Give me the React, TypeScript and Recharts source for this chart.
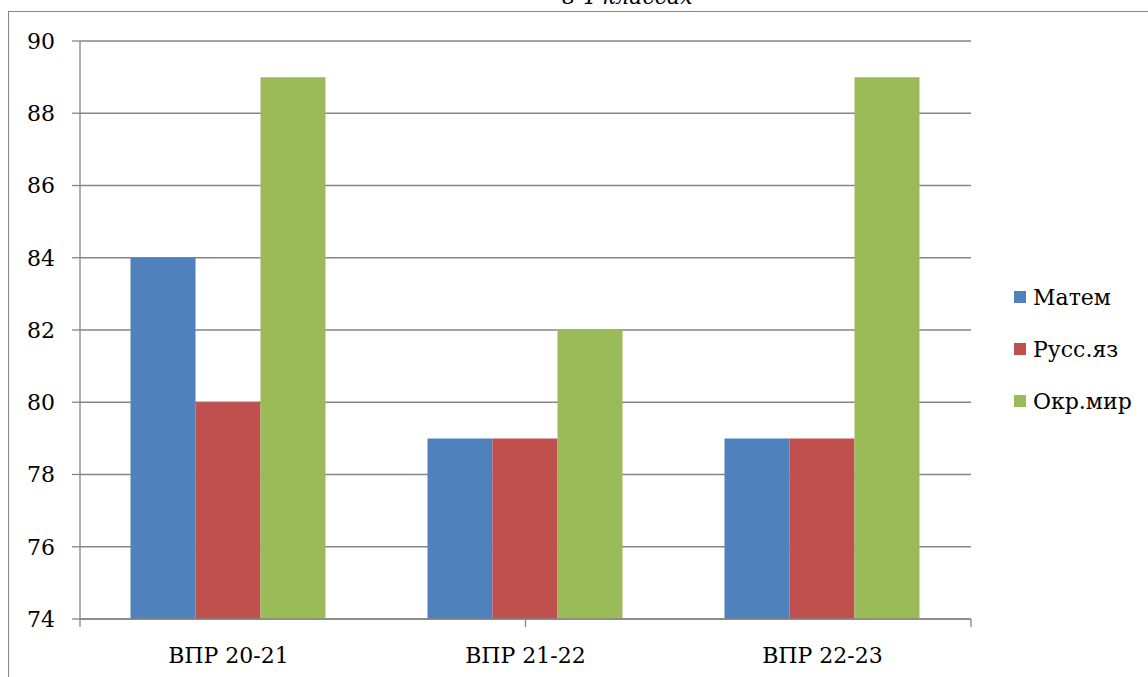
import React from 'react';
import { BarChart, Bar, XAxis, YAxis, CartesianGrid } from 'recharts';

const categories = ['ВПР 20-21', 'ВПР 21-22', 'ВПР 22-23'];
const matem = [84, 79, 79];
const russ = [80, 79, 79];
const okr = [89, 82, 89];
const yTicks = [74, 76, 78, 80, 82, 84, 86, 88, 90];
const boundaryTicks = [0, 1, 2, 3];

const seriesNames = ['Матем', 'Русс.яз', 'Окр.мир'];
const colors = ['#4F81BD', '#C0504D', '#9BBB59'];

const data = categories.map((c, i) => ({ name: c, m: matem[i], r: russ[i], o: okr[i] }));

const FONT = '"DejaVu Serif", serif';
const GRAY = '#868686';

export default function App() {
  return (
    <div style={{ position: 'absolute', left: 0, top: 0, width: 1148, height: 677, overflow: 'hidden', background: '#fff', fontFamily: FONT }}>
      <div style={{ position: 'absolute', left: 8, top: 11, width: 1200, height: 700, border: `1.5px solid ${GRAY}`, boxSizing: 'border-box' }} />
      <div style={{ position: 'absolute', left: 0, width: 1254, top: -16, textAlign: 'center', fontStyle: 'italic', fontSize: 22, lineHeight: '26px', color: '#000' }}>в 4 классах</div>
      <div style={{ position: 'absolute', left: 0, top: 0 }}>
        <BarChart width={1148} height={677} data={data} margin={{ top: 41, right: 177, bottom: 28, left: 20 }} barCategoryGap="17%" barGap={0}>
          <CartesianGrid vertical={false} stroke={GRAY} strokeWidth={1.3} />
          <XAxis xAxisId="bnd" type="number" domain={[0, 3]} ticks={boundaryTicks} axisLine={{ stroke: GRAY, strokeWidth: 1.3 }} tickSize={8} tickLine={{ stroke: GRAY, strokeWidth: 1.3 }} tickFormatter={() => ''} height={1} allowDataOverflow interval={0} />
          <XAxis dataKey="name" xAxisId="cat" axisLine={false} tickLine={false} tickSize={0} tickMargin={27} height={29} tick={{ fill: '#000', fontSize: 22, fontFamily: FONT }} interval={0} />
          <YAxis domain={[74, 90]} ticks={yTicks} width={60} tickSize={8} tickMargin={17} axisLine={{ stroke: GRAY, strokeWidth: 1.3 }} tickLine={{ stroke: GRAY, strokeWidth: 1.3 }} tick={{ fill: '#000', fontSize: 22, fontFamily: FONT }} interval={0} allowDataOverflow />
          <Bar dataKey="m" xAxisId="cat" name={seriesNames[0]} fill={colors[0]} isAnimationActive={false} />
          <Bar dataKey="r" xAxisId="cat" name={seriesNames[1]} fill={colors[1]} isAnimationActive={false} />
          <Bar dataKey="o" xAxisId="cat" name={seriesNames[2]} fill={colors[2]} isAnimationActive={false} />
        </BarChart>
      </div>
      <div style={{ position: 'absolute', left: 1014, top: 284 }}>
        {seriesNames.map((n, i) => (
          <div key={n} style={{ display: 'flex', alignItems: 'center', height: 26, marginBottom: 26 }}>
            <div style={{ width: 12, height: 12, background: colors[i], marginRight: 7 }} />
            <span style={{ fontSize: 22, color: '#000' }}>{n}</span>
          </div>
        ))}
      </div>
    </div>
  );
}
